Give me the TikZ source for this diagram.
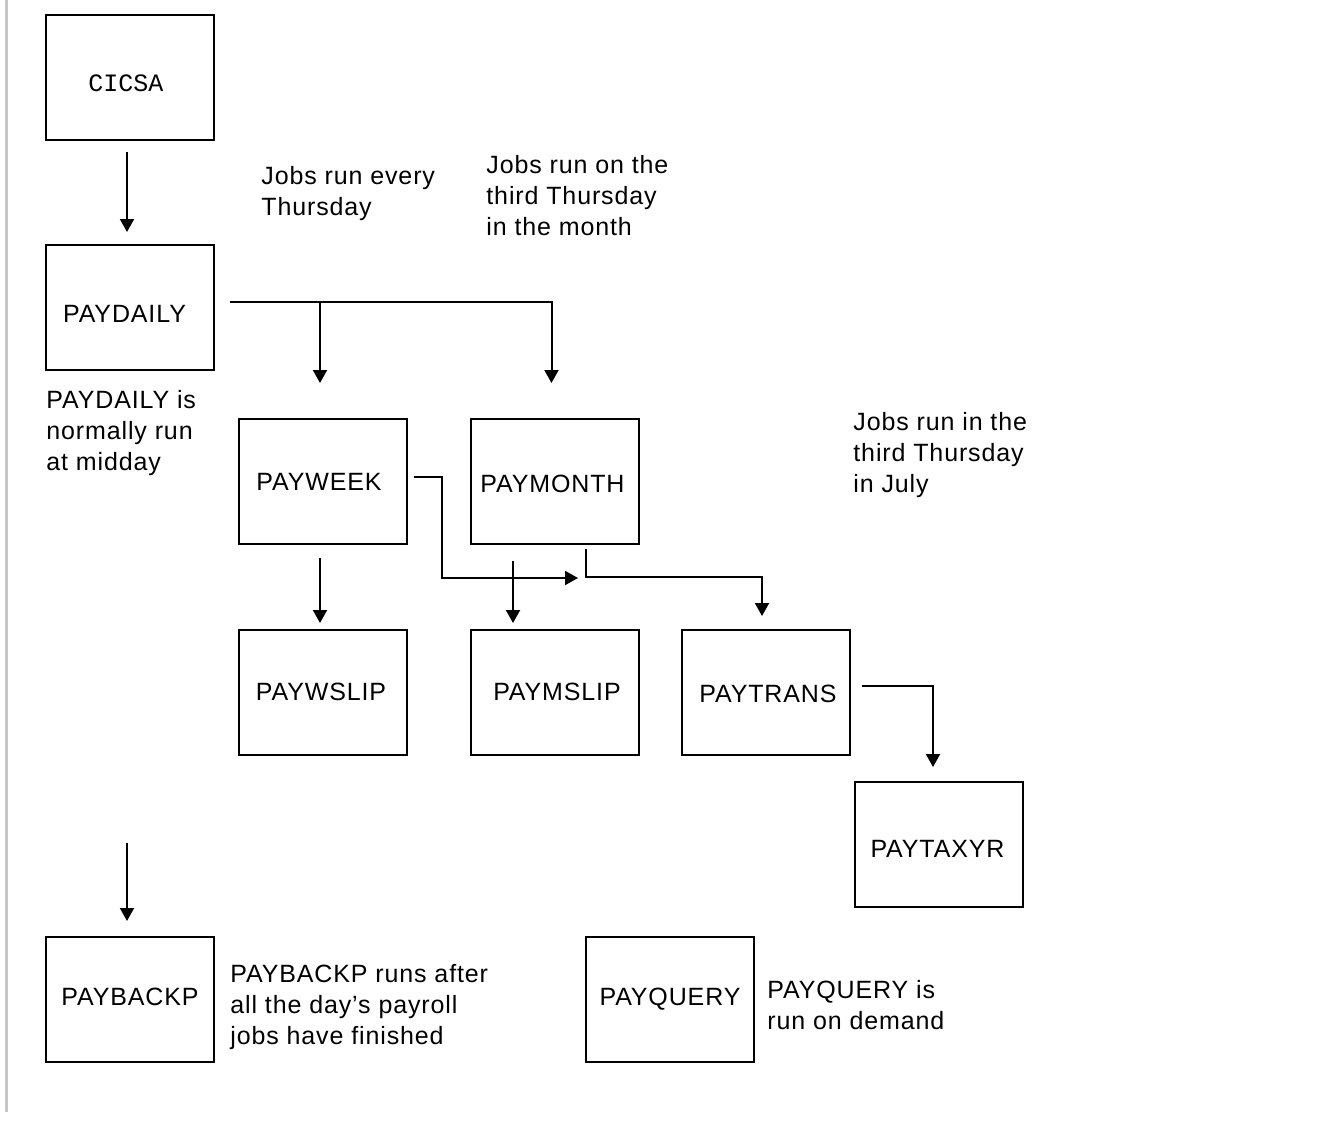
\documentclass[tikz,border=0pt]{standalone}
\usepackage{fontspec}
\setmainfont{Liberation Sans}[LetterSpace=3.5]
\newfontfamily\monofont{Liberation Mono}
\usetikzlibrary{arrows.meta,calc}
\begin{document}
\begin{tikzpicture}[x=0.5pt,y=-0.5pt,
  jobbox/.style={draw,line width=1pt,minimum width=84pt,minimum height=62.5pt,inner sep=0pt},
  jobtext/.style={inner sep=0pt,font=\fontsize{12.5}{15.5}\selectfont},
  note/.style={anchor=north west,inner sep=0pt,align=left,
    font=\fontsize{12.5}{15.5}\selectfont},
  link/.style={line width=1pt},
  arr/.style={link,-{Triangle[width=7pt,length=6.5pt]}}]
\useasboundingbox (0,0) rectangle (1323,1124);
\fill[white] (0,0) rectangle (1323,1124);
% page margin rule
\fill[black!22] (5,0) rectangle (8,1112);

% job boxes
\node[jobbox] (cicsa)    at (130,77.5) {};
\node[jobbox] (paydaily) at (130,307.5) {};
\node[jobbox] (payweek)  at (322.5,481.5) {};
\node[jobbox] (paymonth) at (554.5,481.5) {};
\node[jobbox] (paywslip) at (322.5,692.5) {};
\node[jobbox] (paymslip) at (554.5,692.5) {};
\node[jobbox] (paytrans) at (765.5,692.5) {};
\node[jobbox] (paytaxyr) at (939,844.5) {};
\node[jobbox] (paybackp) at (130,999.5) {};
\node[jobbox] (payquery) at (669.5,999.5) {};

% job names
\node[jobtext,font=\monofont\fontsize{12.5}{15.5}\selectfont] (cicsa-t) at (126,83) {CICSA};
\node[jobtext] (paydaily-t) at (124.5,314) {PAYDAILY};
\node[jobtext] (payweek-t)  at (319,481.5) {PAYWEEK};
\node[jobtext] (paymonth-t) at (552.5,484) {PAYMONTH};
\node[jobtext] (paywslip-t) at (321,692) {PAYWSLIP};
\node[jobtext] (paymslip-t) at (557,692) {PAYMSLIP};
\node[jobtext] (paytrans-t) at (768,694) {PAYTRANS};
\node[jobtext] (paytaxyr-t) at (937.5,849) {PAYTAXYR};
\node[jobtext] (paybackp-t) at (130,997) {PAYBACKP};
\node[jobtext] (payquery-t) at (670,999) {PAYQUERY};

% notes
\node[note] (nweek)  at (261,166) {Jobs run every\\Thursday};
\node[note] (nmonth) at (486,155) {Jobs run on the\\third Thursday\\in the month};
\node[note] (ndaily) at (46,390) {PAYDAILY is\\normally run\\at midday};
\node[note] (nyear)  at (853,412) {Jobs run in the\\third Thursday\\in July};
\node[note] (nback)  at (230,964) {PAYBACKP runs after\\all the day's payroll\\jobs have finished};
\node[note] (nquery) at (767,980) {PAYQUERY is\\run on demand};

% free ends of the connectors
\coordinate (dailyout) at (230,302);
\coordinate (weekout)  at (414,477);
\coordinate (weekend)  at (578,578);
\coordinate (monthout) at (586,549);
\coordinate (transout) at (862,686);
\coordinate (backin)   at (127,843);

% connectors
\draw[arr,shorten <=5.5pt,shorten >=6pt] ($(cicsa.south)+(-3,0)$) -- ($(paydaily.north)+(-3,0)$);
\draw[arr] (dailyout) -| ($(paymonth.north)+(-3,-35)$);
\draw[arr] ($(payweek.north)+(-2.5,-117)$) -- ($(payweek.north)+(-2.5,-35)$);
\draw[arr,shorten <=6.5pt,shorten >=3pt] ($(payweek.south)+(-2.5,0)$) -- ($(paywslip.north)+(-2.5,0)$);
\draw[arr] (weekout) -- (442,477) |- (weekend);
\draw[arr,shorten <=8pt,shorten >=3pt] ($(paymonth.south)+(-41.5,0)$) -- ($(paymslip.north)+(-41.5,0)$);
\draw[arr] (monthout) |- (762,577) -- ($(paytrans.north)+(-3.5,-13)$);
\draw[arr] (transout) -| ($(paytaxyr.north)+(-6,-14)$);
\draw[arr,shorten >=7.5pt] (backin) -- (backin |- paybackp.north);
\end{tikzpicture}
\end{document}
